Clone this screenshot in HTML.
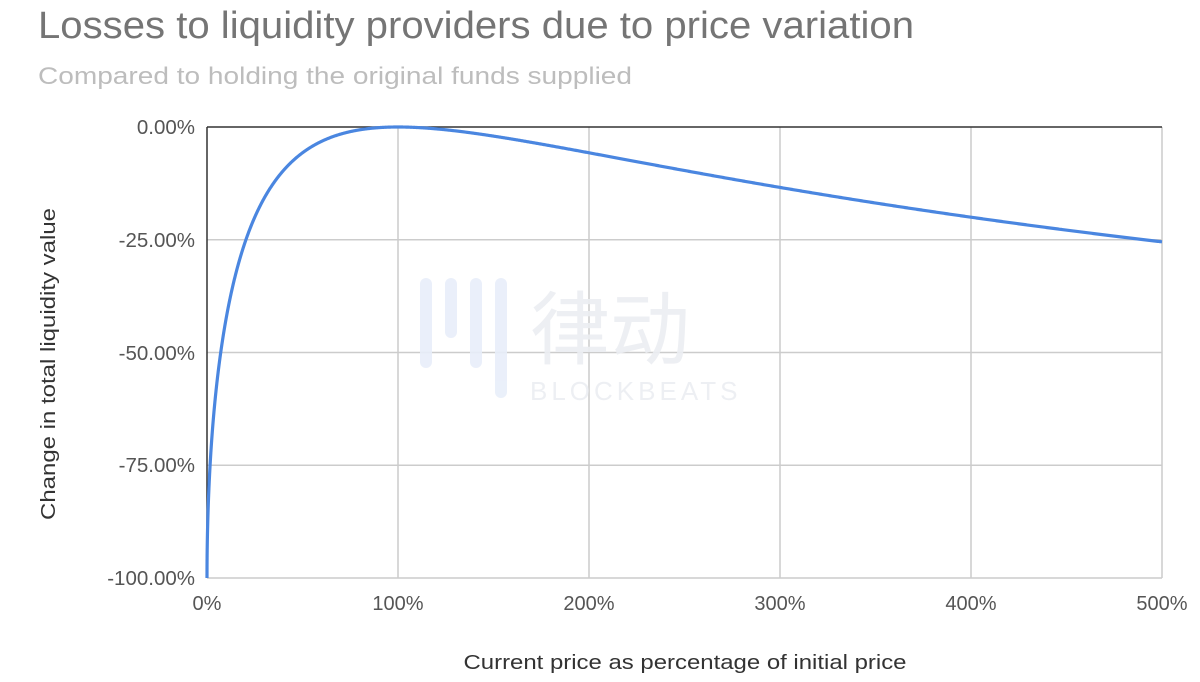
<!DOCTYPE html>
<html><head><meta charset="utf-8"><style>
html,body{margin:0;padding:0;background:#fff;}
svg{display:block;font-family:"Liberation Sans","Noto Sans CJK SC",sans-serif;}
</style></head><body>
<svg id="s" width="1200" height="682" viewBox="0 0 1200 682">
<text x="38" y="38" font-size="38" fill="#757575" textLength="876" lengthAdjust="spacingAndGlyphs">Losses to liquidity providers due to price variation</text>
<text x="38" y="84" font-size="24" fill="#bdbdbd" textLength="594" lengthAdjust="spacingAndGlyphs">Compared to holding the original funds supplied</text>
<g stroke="#cccccc" stroke-width="1.5">
<line x1="207" y1="239.75" x2="1162" y2="239.75"/>
<line x1="207" y1="352.5" x2="1162" y2="352.5"/>
<line x1="207" y1="465.25" x2="1162" y2="465.25"/>
<line x1="207" y1="578" x2="1162" y2="578"/>
<line x1="398" y1="127" x2="398" y2="578"/>
<line x1="589" y1="127" x2="589" y2="578"/>
<line x1="780" y1="127" x2="780" y2="578"/>
<line x1="971" y1="127" x2="971" y2="578"/>
<line x1="1162" y1="127" x2="1162" y2="578"/>
</g>
<line x1="207" y1="127" x2="1162" y2="127" stroke="#333" stroke-width="1.5"/>
<line x1="207" y1="127" x2="207" y2="578" stroke="#333" stroke-width="1.5"/>
<g opacity="0.9">
<text x="530" y="358" font-size="80" fill="#eceef2">律动</text>
<text x="530" y="400" font-size="26" fill="#eceef2" letter-spacing="4">BLOCKBEATS</text>
<rect x="420" y="278" width="12" height="90" rx="6" fill="#e8eefa"/>
<rect x="445" y="278" width="12" height="60" rx="6" fill="#e8eefa"/>
<rect x="470" y="278" width="12" height="90" rx="6" fill="#e8eefa"/>
<rect x="495" y="278" width="12" height="120" rx="6" fill="#e8eefa"/>
</g>
<g font-size="20.5" fill="#555" text-anchor="end">
<text x="195" y="134">0.00%</text>
<text x="195" y="247">-25.00%</text>
<text x="195" y="360">-50.00%</text>
<text x="195" y="472">-75.00%</text>
<text x="195" y="585">-100.00%</text>
</g>
<g font-size="20" fill="#555" text-anchor="middle">
<text x="207" y="610">0%</text>
<text x="398" y="610">100%</text>
<text x="589" y="610">200%</text>
<text x="780" y="610">300%</text>
<text x="971" y="610">400%</text>
<text x="1162" y="610">500%</text>
</g>
<text x="685" y="669" font-size="20" fill="#333" text-anchor="middle" textLength="443" lengthAdjust="spacingAndGlyphs">Current price as percentage of initial price</text>
<text transform="translate(55,364) rotate(-90)" font-size="20" fill="#333" text-anchor="middle" textLength="312" lengthAdjust="spacingAndGlyphs">Change in total liquidity value</text>
<path id="c" fill="none" stroke="#4a86e0" stroke-width="3.2" stroke-linejoin="round"/>
</svg>
<script>
var d="";
for(var i=0;i<=2000;i++){
 var r=5*Math.pow(i/2000,2.2);
 var v=2*Math.sqrt(r)/(1+r)-1;
 var x=207+r*191, y=127-v*451;
 d+=(i?"L":"M")+x.toFixed(2)+","+y.toFixed(2);
}
document.getElementById("c").setAttribute("d",d);
</script>
</body></html>
